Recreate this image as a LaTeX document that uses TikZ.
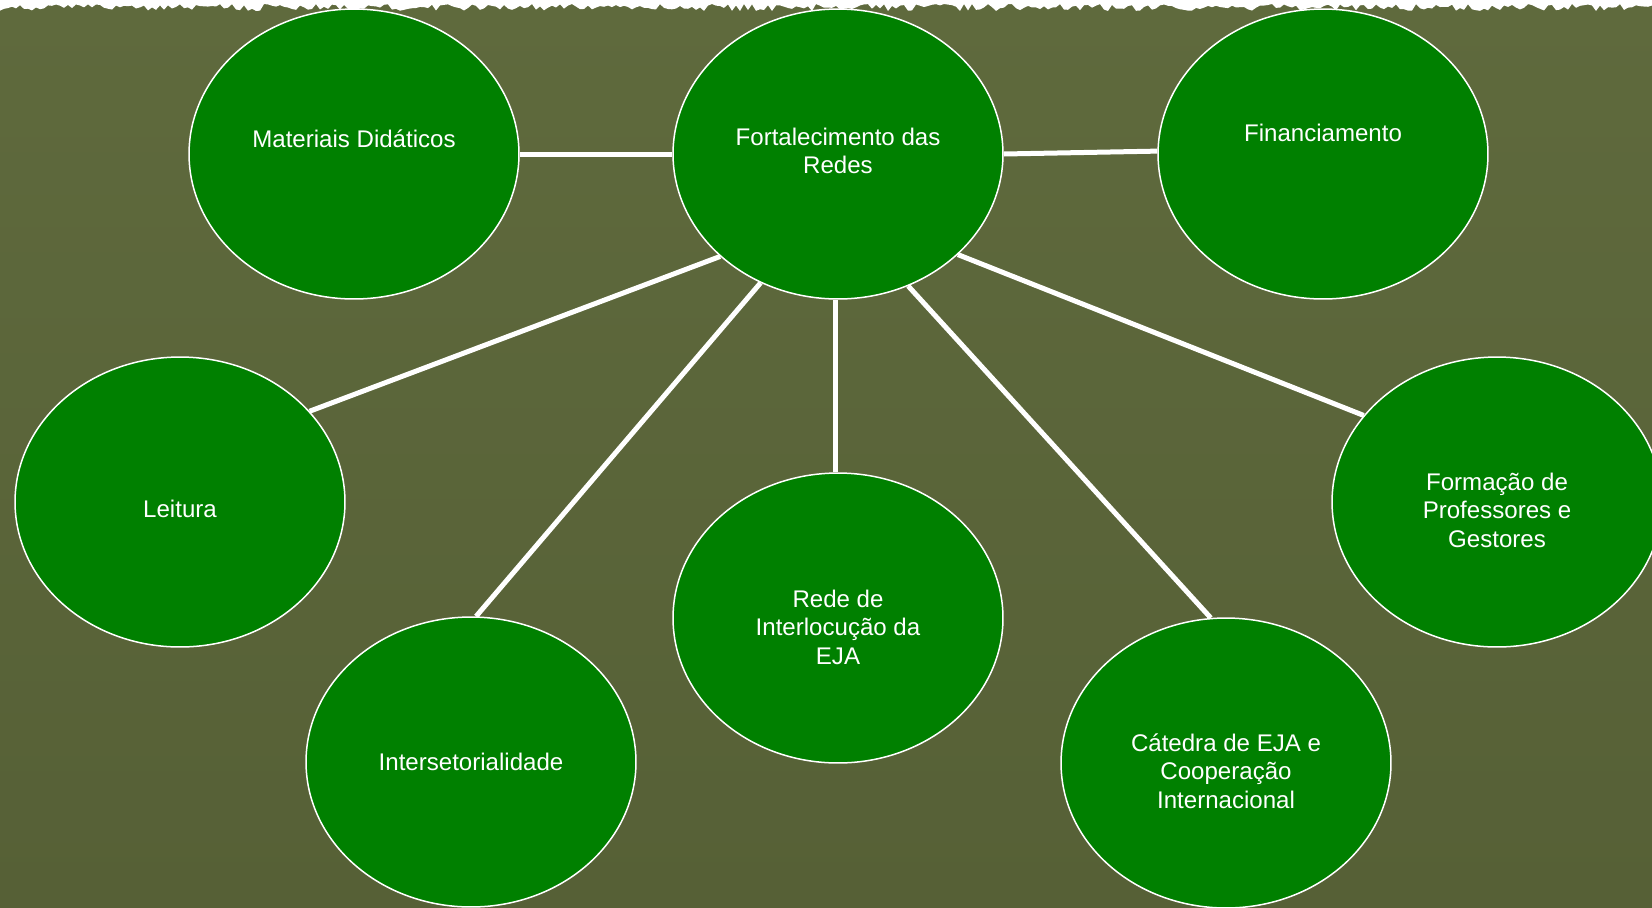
\documentclass[tikz,border=0pt]{standalone}
\usepackage{fontspec}
\setmainfont{Liberation Sans}
\usetikzlibrary{shapes.geometric}

\definecolor{bgtop}{RGB}{95,106,61}
\definecolor{bglight}{RGB}{104,118,70}
\definecolor{bgdark}{RGB}{86,96,54}
\definecolor{bubblegreen}{RGB}{0,128,0}

\tikzset{
    bubble/.style={ellipse, draw=white, line width=0.03cm, fill=bubblegreen,
        minimum width=6.6cm, minimum height=5.8cm, inner sep=0pt},
    lbl/.style={text=white, align=center, inner sep=0pt,
        font=\fontsize{13.7}{16.2}\selectfont},
    link/.style={draw=white, line width=0.1cm}
}

\begin{document}
\begin{tikzpicture}[x=0.02cm, y=-0.02cm]
    \useasboundingbox (0,0) rectangle (1652,907);

    % Background and grass edge on top
    \shade[top color=bgtop, middle color=bglight, bottom color=bgdark] (0,0) rectangle (1652,907);
    \pgfmathsetseed{11}
    \fill[white] (0,0) \foreach \x in {0,4,...,1652} {-- (\x,{4+7*rnd})} -- (1652,0) -- cycle;

    % Define nodes
    \node[bubble, label={[lbl, yshift=0.3cm]center:Materiais Didáticos}] (mat) at (354,154) {};
    \node[bubble, label={[lbl, yshift=0.06cm]center:{Fortalecimento das\\Redes}}] (fort) at (838,154) {};
    \node[bubble, label={[lbl, yshift=0.42cm]center:Financiamento}] (fin) at (1323,154) {};
    \node[bubble, label={[lbl, yshift=-0.14cm]center:Leitura}] (leit) at (180,502) {};
    \node[bubble, label={[lbl, yshift=-0.16cm]center:{Formação de\\Professores e\\Gestores}}] (form) at (1497,502) {};
    \node[bubble, label={[lbl, yshift=-0.18cm]center:{Rede de\\Interlocução da\\EJA}}] (rede) at (838,618) {};
    \node[bubble, label={[lbl]center:Intersetorialidade}] (inter) at (471,762) {};
    \node[bubble, label={[lbl, yshift=-0.16cm]center:{Cátedra de EJA e\\Cooperação\\Internacional}}] (cat) at (1226,763) {};

    % Links from the centre bubble
    \draw[link] (fort.180) -- (mat.0);
    \draw[link] (fort.0) -- (fin.179);
    \draw[link] (fort.221) -- (leit.35);
    \draw[link] (fort.239) -- (inter.88);
    \draw[link] (fort.269) -- (rede.91);
    \draw[link] (fort.298) -- (cat.96);
    \draw[link] (fort.320) -- (form.147);
\end{tikzpicture}
\end{document}
